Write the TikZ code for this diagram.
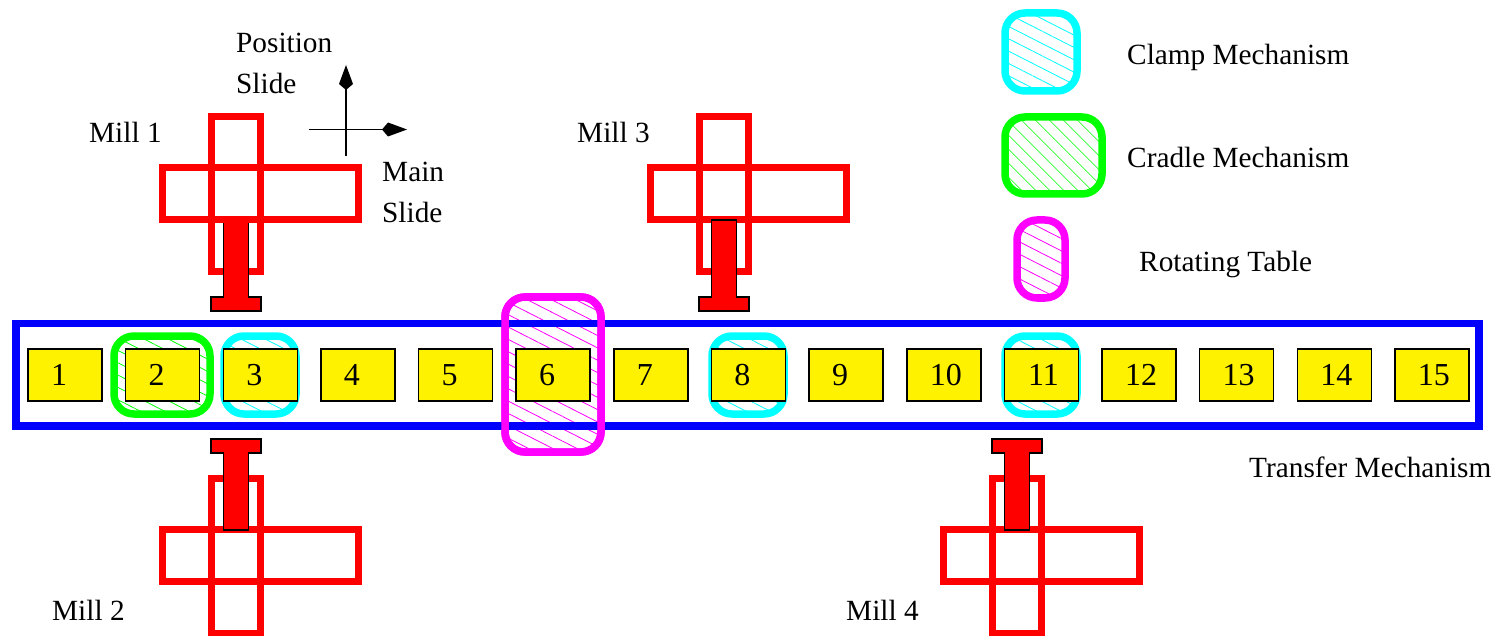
\documentclass[tikz,border=0pt]{standalone}
\usepackage{fontspec}
\setmainfont{Liberation Serif}
\usetikzlibrary{arrows.meta,patterns.meta}
\definecolor{transferblue}{RGB}{0,0,255}
\definecolor{clampcyan}{RGB}{0,255,255}
\definecolor{cradlegreen}{RGB}{0,255,0}
\definecolor{tablemagenta}{RGB}{255,0,255}
\tikzset{
  every node/.style={
    font=\fontsize{29.3}{32}\selectfont
  },
  label text/.style={
    anchor=base west,
    inner sep=0pt
  },
  cell/.style={
    shape=rectangle,
    minimum width=74pt,
    minimum height=52pt,
    inner sep=0pt,
    draw=black,
    line width=1.5pt,
    fill=yellow,
    font=\fontsize{32}{34}\selectfont
  },
  hatched/.style n args={3}{
    shape=rectangle,
    minimum width=#1,
    minimum height=#2,
    rounded corners=20pt,
    draw=#3,
    line width=7.5pt,
    pattern={Lines[angle=-27,distance=11pt,line width=0.8pt]},
    pattern color=#3
  },
  slide/.style n args={2}{
    shape=rectangle,
    minimum width=#1,
    minimum height=#2,
    draw=red,
    line width=7pt
  },
  spindle/.pic={
    \draw [fill=red,line width=1.5pt]
      (-12.5,-77) -- (12.5,-77) -- (12.5,0) -- (25,0) -- (25,14) -- (-25,14) -- (-25,0) -- (-12.5,0) -- cycle;
  },
  axis/.style={
    line width=1.6pt,
    -{Kite[length=25pt,width=14pt,inset=6pt]}
  }
}
\begin{document}
\begin{tikzpicture}[x=1pt,y=-1pt]
  \useasboundingbox (0,0) rectangle (1496,636);

  \node [hatched={96pt}{155pt}{tablemagenta}] (table6) at (553,374.5) {};
  \node [shape=rectangle,minimum width=1463pt,minimum height=102.5pt,draw=transferblue,line width=7.5pt] (transfer) at (747.5,374.7) {};
  \draw [tablemagenta,line width=7.5pt,rounded corners=20pt] (505,297) rectangle (601,452);

  \node [hatched={96pt}{78pt}{cradlegreen}] (cradle2) at (162,375) {};
  \foreach \n/\x in {3/260,8/748,11/1041}
    \node [hatched={72pt}{78pt}{clampcyan}] (clamp\n) at (\x,375) {};

  \foreach \n in {1,...,15}
    \node [cell] (cell\n) at ({65+97.64*(\n-1)},375)
      {\raisebox{-6pt}{\ifnum\n<10 \n\hspace{12pt}\else\hspace{4pt}\n\fi}};

  \foreach \m/\x/\y in {1/236/194,2/236/555.5,3/724/194,4/1017/555.5}
    \node [slide={49pt}{155pt}] (vert\m) at (\x,\y) {};

  \pic at (236,297) {spindle};

  \foreach \m/\x/\y in {1/260/194,2/260/555.5,3/748/194,4/1041/555.5}
    \node [slide={196pt}{52pt}] (horiz\m) at (\x,\y) {};

  \pic at (724,297) {spindle};
  \pic [yscale=-1] at (236,453) {spindle};
  \pic [yscale=-1] at (1017,453) {spindle};

  \node [hatched={72pt}{78pt}{clampcyan}] (clamp) at (1041,52) {};
  \node [shape=rectangle,minimum width=97pt,minimum height=77pt,rounded corners=20pt,draw=cradlegreen,line width=7.5pt,pattern={Lines[angle=-45,distance=10.5pt,line width=0.8pt]},pattern color=cradlegreen] (cradle) at (1053.5,155.5) {};
  \node [hatched={48pt}{78pt}{tablemagenta}] (table) at (1041,259) {};

  \node [label text] (mill1) at (89,142.5) {Mill 1};
  \node [label text] (mill3) at (577,142.5) {Mill 3};
  \node [label text] (mill2) at (52,620.5) {Mill 2};
  \node [label text] (mill4) at (846,620.5) {Mill 4};
  \node [label text] (position) at (236,53) {Position};
  \node [label text] (posslide) at (236,94) {Slide};
  \node [label text] (main) at (382,182) {Main};
  \node [label text] (mainslide) at (382,223) {Slide};
  \node [label text] (clamptext) at (1127,65) {Clamp Mechanism};
  \node [label text] (cradletext) at (1127,168) {Cradle Mechanism};
  \node [label text] (tabletext) at (1139,272) {Rotating Table};
  \node [label text] (transfertext) at (1249,477.5) {Transfer Mechanism};

  \coordinate (axisS) at (346,156);
  \coordinate (axisN) at (346,65);
  \coordinate (axisW) at (309,129.5);
  \coordinate (axisE) at (407,129.5);
  \draw [axis] (axisS) -- (axisN);
  \draw [axis] (axisW) -- (axisE);
\end{tikzpicture}
\end{document}
